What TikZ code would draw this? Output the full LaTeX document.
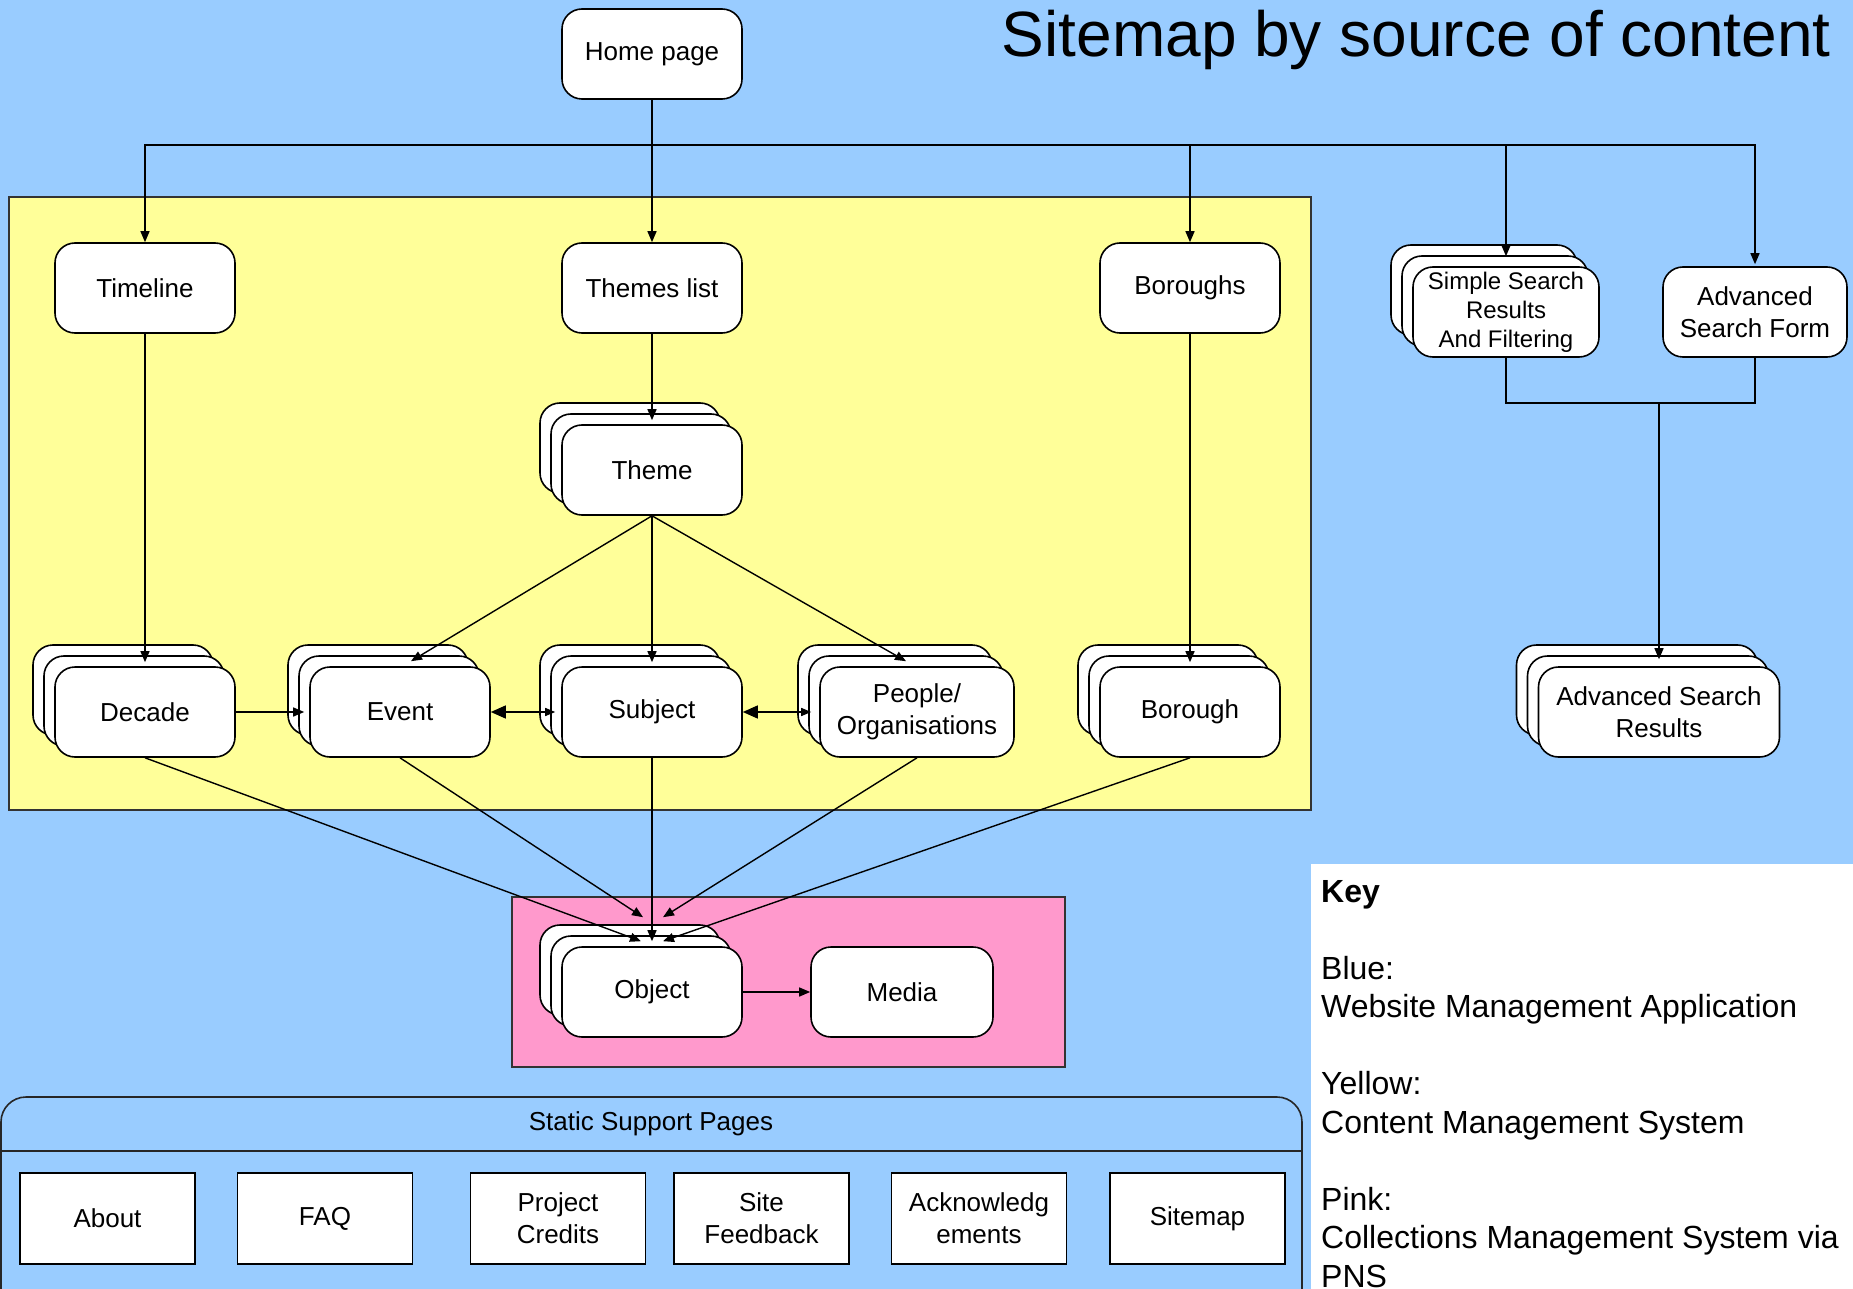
\documentclass[tikz,border=0pt]{standalone}
\usepackage{fontspec}
\setmainfont{Liberation Sans}
\usetikzlibrary{arrows.meta,calc}

\definecolor{wmablue}{RGB}{153,204,255}
\definecolor{cmsyellow}{RGB}{255,255,153}
\definecolor{cmspink}{RGB}{255,153,204}

\tikzset{
  pagebox/.style={draw=black, fill=white, rounded corners=20pt, line width=1.6pt,
    minimum width=180pt, minimum height=90pt, inner sep=0pt, align=center,
    font=\fontsize{26}{32}\selectfont},
  staticbox/.style={draw=black, fill=white, line width=1.6pt,
    minimum width=175pt, minimum height=91pt, inner sep=0pt, align=center,
    font=\fontsize{26}{32}\selectfont},
  wire/.style={draw=black, line width=1.4pt},
  conn/.style={wire, -{Triangle[length=11pt,width=9pt]}},
  biconn/.style={wire, {Triangle[length=15pt,width=13pt]}-{Triangle[length=10pt,width=8pt]}},
  zone/.style={draw=black!80, line width=1.6pt},
}

% a page that stands for many: two blank copies behind the labelled one
\newcommand\stackpage[5]{%
  \node[pagebox,#4] (#1-back) at (#2-22,#3-22) {};
  \node[pagebox,#4] (#1-mid) at (#2-11,#3-11) {};
  \node[pagebox,#4] (#1) at (#2,#3) {#5};
}

\begin{document}
\begin{tikzpicture}[x=1pt,y=-1pt]
\useasboundingbox (0,0) rectangle (1853,1289);
\clip (0,0) rectangle (1853,1289);
\fill[wmablue] (0,0) rectangle (1853,1289);

% source-of-content areas
\draw[zone, fill=cmsyellow] (9,197) rectangle (1311,810);
\draw[zone, fill=cmspink] (512,897) rectangle (1065,1067);
\fill[white] (1311,864) rectangle (1853,1289);

% title
\node[anchor=base east, font=\fontsize{64}{72}\selectfont, inner sep=0pt] (title) at (1831,57) {Sitemap by source of content};

% top level pages
\node[pagebox] (home) at (652,54) {Home page};
\node[pagebox] (timeline) at (145,288) {Timeline};
\node[pagebox] (themes) at (652,288) {Themes list};
\node[pagebox] (boroughs) at (1190,288) {Boroughs};
\stackpage{simple}{1506}{312}{minimum width=186pt, font=\fontsize{24}{29}\selectfont}{Simple Search\\Results\\And Filtering}
\node[pagebox, minimum width=184pt] (advform) at (1755,312) {Advanced\\Search Form};

% content pages
\stackpage{theme}{652}{470}{}{Theme}
\stackpage{decade}{145}{712}{}{Decade}
\stackpage{event}{400}{712}{}{Event}
\stackpage{subject}{652}{712}{}{Subject}
\stackpage{people}{917}{712}{minimum width=194pt}{People/\\Organisations}
\stackpage{borough}{1190}{712}{}{Borough}
\stackpage{advres}{1659}{712}{minimum width=241pt}{Advanced Search\\Results}

% collection pages
\stackpage{object}{652}{992}{}{Object}
\node[pagebox, minimum width=182pt] (media) at (902,992) {Media};

% navigation from the home page
\coordinate (bus) at (652,145);
\draw[conn] (home.south) -- (themes.north);
\draw[conn] (bus) -| (timeline.north);
\draw[conn] (bus) -| (boroughs.north);
\draw[conn] (bus) -| ([yshift=10pt]simple.north);
\draw[conn] (bus) -| ([yshift=2pt]advform.north);

\draw[conn] (timeline.south) -- ([yshift=4pt]decade.north);
\draw[conn] (themes.south) -- ([yshift=4pt]theme.north);
\draw[conn] (boroughs.south) -- ([yshift=4pt]borough.north);

\draw[conn] (theme.south) -- ([xshift=11pt,yshift=5pt]event.north);
\draw[conn] (theme.south) -- ([yshift=4pt]subject.north);
\draw[conn] (theme.south) -- ([xshift=-11pt,yshift=5pt]people.north);

\draw[conn] (decade.east) -- ([xshift=-5pt]event.west);
\draw[biconn] (event.east) -- ([xshift=-6pt]subject.west);
\draw[biconn] (subject.east) -- ([xshift=-8pt]people.west);

% every content page leads to objects
\draw[conn] (decade.south) -- ([xshift=-11pt,yshift=5pt]object.north);
\draw[conn] (event.south) -- ([xshift=-9pt,yshift=29pt]object.north);
\draw[conn] (subject.south) -- ([yshift=5pt]object.north);
\draw[conn] (people.south) -- ([xshift=11pt,yshift=29pt]object.north);
\draw[conn] (borough.south) -- ([xshift=11pt,yshift=5pt]object.north);
\draw[conn] (object.east) -- (media.west);

% search results
\coordinate (join) at (1659,403);
\draw[wire] (simple.south) |- (join) -| (advform.south);
\draw[conn] (join) -- ([yshift=7pt]advres.north);

% static support pages
\draw[line width=1.6pt, draw=black!85, rounded corners=25pt] (1,1097) rectangle (1302,1320);
\draw[line width=1.6pt, draw=black!85] (1,1151) -- (1302,1151);
\node[font=\fontsize{26}{32}\selectfont] (static) at (651,1124) {Static Support Pages};
\node[staticbox] (about) at (107.5,1218.5) {About};
\node[staticbox] (faq) at (325,1218.5) {FAQ};
\node[staticbox] (credits) at (558,1218.5) {Project\\Credits};
\node[staticbox] (feedback) at (761.5,1218.5) {Site\\Feedback};
\node[staticbox] (ack) at (979,1218.5) {Acknowledg\\ements};
\node[staticbox] (sitemap) at (1197.5,1218.5) {Sitemap};

% key
\node[anchor=north west, align=left, inner sep=0pt, font=\fontsize{32}{38.5}\selectfont] (key) at (1321,880)
  {\textbf{Key}\\[38.5pt]
   Blue:\\
   Website Management Application\\[38.5pt]
   Yellow:\\
   Content Management System\\[38.5pt]
   Pink:\\
   Collections Management System via\\
   PNS};
\end{tikzpicture}
\end{document}
